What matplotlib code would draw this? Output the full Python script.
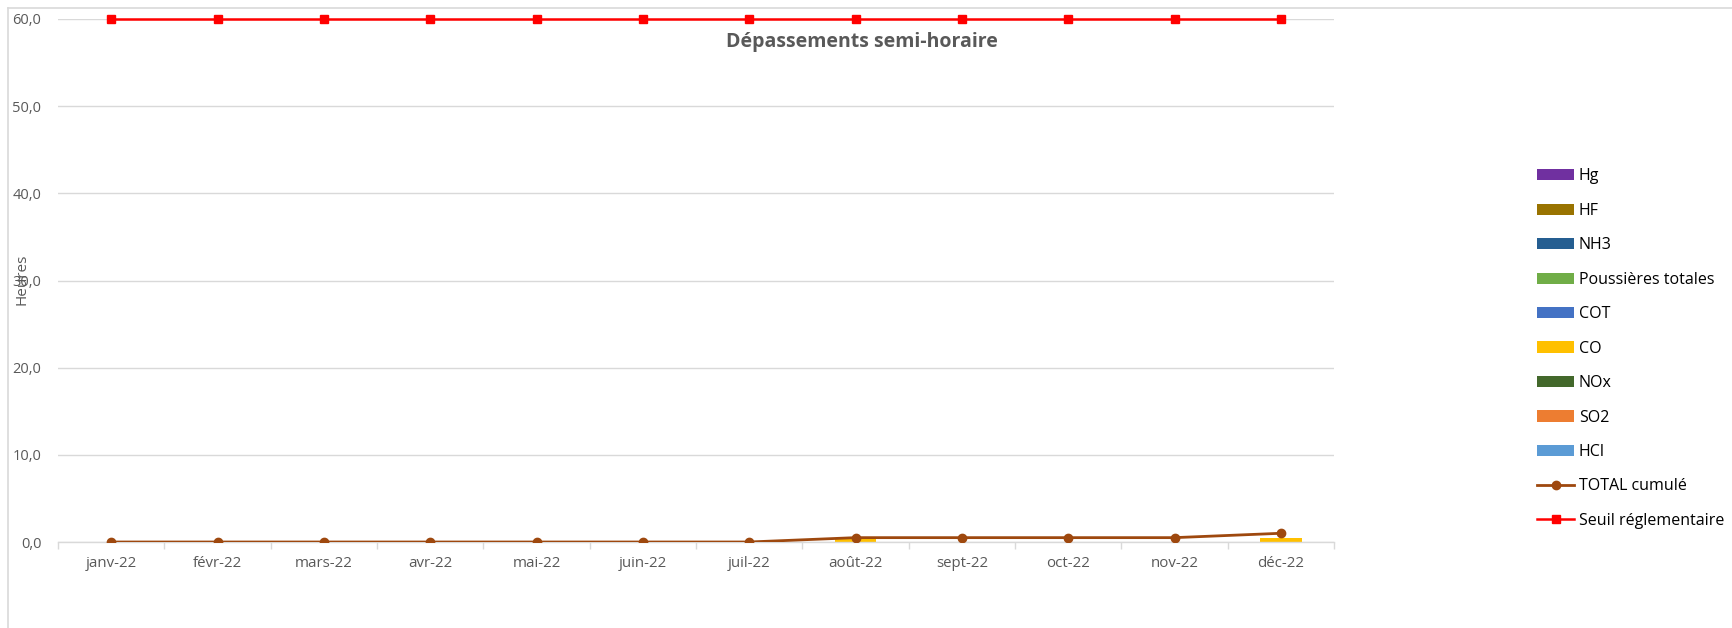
import matplotlib.pyplot as plt
import numpy as np
from matplotlib.patches import Patch
from matplotlib.lines import Line2D
from matplotlib.ticker import FuncFormatter, FixedLocator

mois = ['janv-22', 'févr-22', 'mars-22', 'avr-22', 'mai-22', 'juin-22',
        'juil-22', 'août-22', 'sept-22', 'oct-22', 'nov-22', 'déc-22']

# series empilees (ordre du bas vers le haut)
hcl = [0, 0, 0, 0, 0, 0, 0, 0, 0, 0, 0, 0]
so2 = [0, 0, 0, 0, 0, 0, 0, 0, 0, 0, 0, 0]
nox = [0, 0, 0, 0, 0, 0, 0, 0, 0, 0, 0, 0]
co = [0, 0, 0, 0, 0, 0, 0, 0.5, 0, 0, 0, 0.5]
cot = [0, 0, 0, 0, 0, 0, 0, 0, 0, 0, 0, 0]
poussieres = [0, 0, 0, 0, 0, 0, 0, 0, 0, 0, 0, 0]
nh3 = [0, 0, 0, 0, 0, 0, 0, 0, 0, 0, 0, 0]
hf = [0, 0, 0, 0, 0, 0, 0, 0, 0, 0, 0, 0]
hg = [0, 0, 0, 0, 0, 0, 0, 0, 0, 0, 0, 0]

total_cumule = [0, 0, 0, 0, 0, 0, 0, 0.5, 0.5, 0.5, 0.5, 1.0]
seuil = [60] * 12

series = [
    ('HCl', hcl, '#5B9BD5'),
    ('SO2', so2, '#ED7D31'),
    ('NOx', nox, '#43682B'),
    ('CO', co, '#FFC000'),
    ('COT', cot, '#4472C4'),
    ('Poussières totales', poussieres, '#70AD47'),
    ('NH3', nh3, '#255E91'),
    ('HF', hf, '#997300'),
    ('Hg', hg, '#7030A0'),
]

plt.rcParams['font.family'] = ['Open Sans', 'DejaVu Sans']
grey = '#595959'

fig = plt.figure(figsize=(17.32, 6.28), dpi=100)
ax = fig.add_axes([58 / 1732, 1 - 542 / 628, (1334 - 58) / 1732, (542 - 19) / 628])

x = np.arange(len(mois))
bottom = np.zeros(len(mois))
for name, vals, col in series:
    ax.bar(x, vals, width=0.39, bottom=bottom, color=col, zorder=2)
    bottom += np.array(vals)

ax.plot(x, total_cumule, color='#9E480E', lw=2, marker='o', ms=6, zorder=3)
ax.plot(x, seuil, color='#FF0000', lw=1.8, marker='s', ms=6, zorder=3, clip_on=False)

ax.set_xlim(-0.5, 11.5)
ax.set_ylim(0, 60)
ax.set_yticks(np.arange(0, 61, 10))
ax.yaxis.set_major_formatter(FuncFormatter(lambda v, p: f'{v:.1f}'.replace('.', ',')))
ax.set_xticks(x)
ax.set_xticklabels(mois)
ax.xaxis.set_minor_locator(FixedLocator(np.arange(-0.5, 12, 1)))
ax.tick_params(axis='x', which='major', length=0, pad=10, labelsize=10.8, labelcolor=grey)
ax.tick_params(axis='x', which='minor', length=5, color='#D9D9D9', width=1)
ax.tick_params(axis='y', length=0, pad=12, labelsize=10.5, labelcolor=grey)

ax.grid(axis='y', color='#D9D9D9', lw=1, zorder=0)
for s in ['top', 'right', 'left']:
    ax.spines[s].set_visible(False)
ax.spines['bottom'].set_color('#D9D9D9')
ax.spines['bottom'].set_linewidth(1)

fig.text(22 / 1732, 1 - 279 / 628, 'Heures', rotation=90, ha='center', va='center',
         fontsize=11, color=grey)

fig.text(862 / 1732, 1 - 42 / 628, 'Dépassements semi-horaire', ha='center', va='center',
         fontsize=14, fontweight='bold', color=grey)

handles = []
labels = []
for name, vals, col in reversed(series):
    handles.append(Patch(facecolor=col))
    labels.append(name)
handles.append(Line2D([], [], color='#9E480E', lw=2, marker='o', ms=6))
labels.append('TOTAL cumulé')
handles.append(Line2D([], [], color='#FF0000', lw=1.8, marker='s', ms=6))
labels.append('Seuil réglementaire')

fig.legend(handles, labels, loc='upper left', bbox_to_anchor=(1531 / 1732, 1 - 162 / 628),
           frameon=False, fontsize=11.5, labelspacing=1.155, handlelength=2.3,
           handleheight=0.7, handletextpad=0.3, borderaxespad=0)

# cadre de la zone de graphique
fig.add_artist(Line2D([8 / 1732, 8 / 1732], [0, 1 - 8 / 628], color='#D9D9D9', lw=1.2,
                      transform=fig.transFigure))
fig.add_artist(Line2D([8 / 1732, 1], [1 - 8 / 628, 1 - 8 / 628], color='#D9D9D9', lw=1.2,
                      transform=fig.transFigure))

fig.savefig('out.png', dpi=100)
